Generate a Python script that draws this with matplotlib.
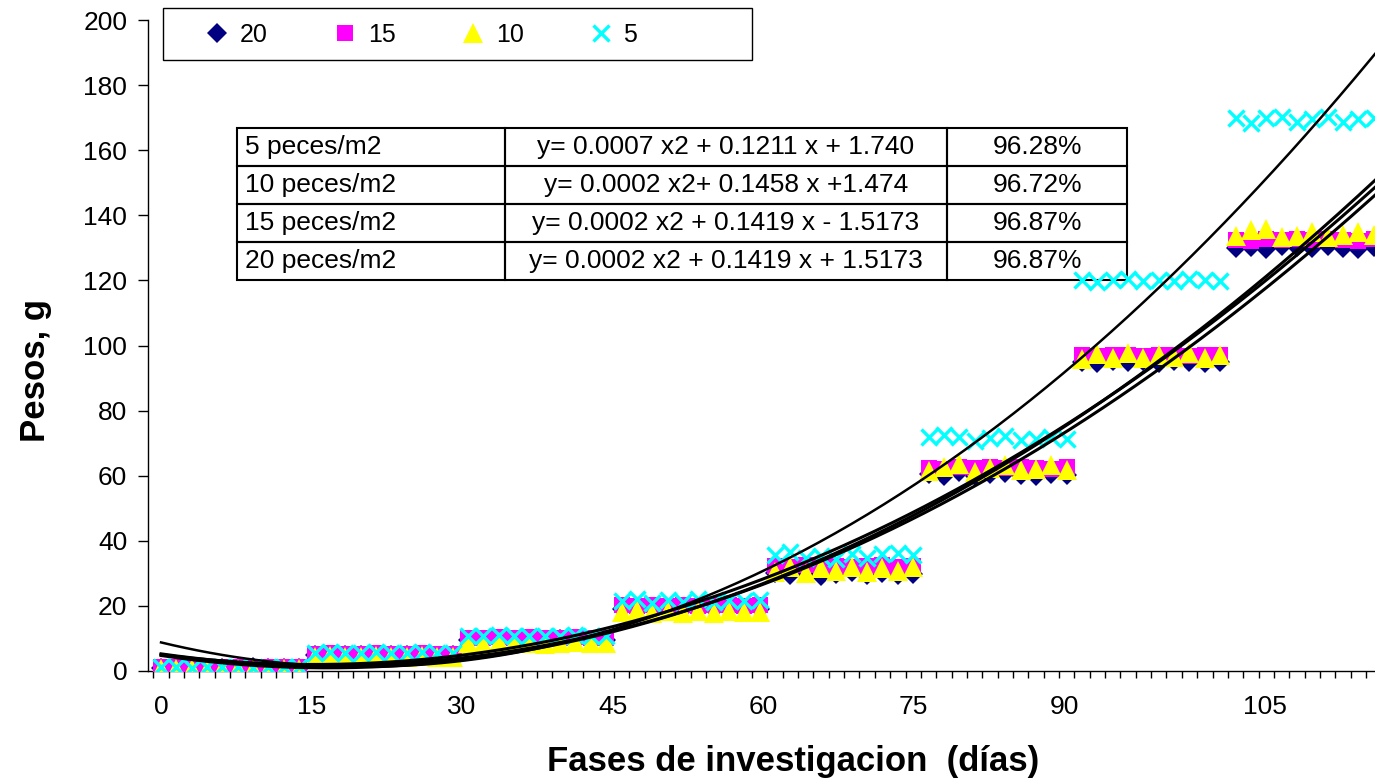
import numpy as np
import matplotlib
matplotlib.use('Agg')
import matplotlib.pyplot as plt
from matplotlib.patches import Rectangle

plt.rcParams['font.family'] = ['Liberation Sans', 'DejaVu Sans']

# one point per sampling step, 8 phases of 10 samples
step_days = 1.53
n_points = 80

peso_20 = [1.0, 1.0, 1.1, 1.0, 0.9, 1.0, 1.1, 1.0, 0.9, 1.0,
           4.8, 4.6, 5.0, 4.8, 4.7, 4.9, 5.0, 4.8, 4.6, 4.9,
           9.5, 9.2, 9.8, 9.4, 9.6, 9.3, 9.7, 9.5, 9.2, 9.6,
           19.0, 18.5, 19.3, 18.8, 19.1, 18.6, 19.2, 18.9, 18.7, 19.0,
           30.0, 29.5, 30.3, 29.2, 29.8, 30.4, 29.6, 30.1, 29.4, 29.9,
           60.5, 60.0, 61.0, 59.8, 60.4, 60.9, 60.2, 59.9, 60.6, 60.1,
           95.0, 94.6, 95.3, 94.8, 95.1, 94.7, 95.2, 94.9, 94.5, 95.0,
           130.0, 130.4, 129.8, 130.6, 130.2, 129.9, 130.5, 130.1, 129.7, 130.3]

peso_15 = [1.2, 1.3, 1.2, 1.1, 1.2, 1.3, 1.2, 1.1, 1.2, 1.2,
           5.3, 5.4, 5.2, 5.3, 5.5, 5.2, 5.3, 5.4, 5.2, 5.3,
           10.2, 10.0, 10.4, 10.1, 10.3, 10.0, 10.2, 10.4, 10.1, 10.2,
           20.2, 20.0, 20.4, 20.1, 20.3, 20.0, 20.2, 20.4, 20.1, 20.2,
           32.3, 32.0, 32.5, 32.2, 32.4, 32.1, 32.3, 32.5, 32.0, 32.2,
           62.5, 62.2, 62.8, 62.4, 62.6, 62.3, 62.7, 62.5, 62.2, 62.6,
           97.0, 96.8, 97.2, 97.0, 96.9, 97.1, 97.0, 96.8, 97.2, 97.0,
           132.5, 132.2, 132.8, 132.4, 132.6, 132.3, 132.7, 132.5, 132.2, 132.6]

peso_10 = [0.5, 0.6, 0.5, 0.4, 0.5, 0.6, 0.5, 0.4, 0.5, 0.5,
           4.4, 4.5, 4.3, 4.4, 4.6, 4.3, 4.4, 4.5, 4.3, 4.4,
           8.6, 8.4, 8.8, 8.5, 8.7, 8.4, 8.6, 8.8, 8.5, 8.6,
           18.0, 18.6, 17.8, 18.3, 17.9, 18.5, 17.7, 18.4, 18.0, 18.2,
           30.5, 31.8, 30.2, 31.5, 30.8, 32.0, 30.4, 31.6, 30.6, 31.9,
           61.5, 62.8, 63.5, 61.2, 62.4, 63.2, 61.8, 62.0, 63.4, 61.6,
           96.0, 97.5, 96.3, 97.8, 96.1, 97.2, 96.5, 97.6, 96.2, 97.0,
           133.5, 135.5, 135.8, 133.2, 133.6, 134.8, 133.4, 134.0, 135.0, 133.8]

peso_5 = [1.1, 1.2, 1.0, 1.1, 1.2, 1.1, 1.0, 1.2, 1.1, 1.1,
          5.6, 5.7, 5.5, 5.6, 5.8, 5.5, 5.6, 5.7, 5.5, 5.6,
          10.8, 10.6, 11.0, 10.7, 10.9, 10.6, 10.8, 11.0, 10.7, 10.8,
          21.5, 22.2, 21.0, 21.8, 21.3, 22.0, 21.2, 21.7, 21.4, 21.9,
          35.5, 36.5, 34.8, 35.2, 34.5, 35.8, 34.6, 35.9, 36.2, 35.6,
          71.8, 72.5, 72.0, 70.8, 71.5, 72.3, 70.9, 71.2, 72.0, 71.4,
          120.0, 119.6, 120.2, 120.4, 119.8, 120.1, 119.7, 120.3, 120.0, 119.9,
          170.0, 168.5, 169.8, 170.2, 168.7, 169.5, 170.3, 168.8, 169.6, 170.0]

series_names = ["20", "15", "10", "5"]
# category labels as they sit on the spreadsheet axis (last one is offset)
tick_pos = [0, 15, 30, 45, 60, 75, 90, 110]
tick_labels = ["0", "15", "30", "45", "60", "75", "90", "105"]

tabla = [["5 peces/m2", "y= 0.0007 x2 + 0.1211 x + 1.740", "96.28%"],
         ["10 peces/m2", "y= 0.0002 x2+ 0.1458 x +1.474", "96.72%"],
         ["15 peces/m2", "y= 0.0002 x2 + 0.1419 x - 1.5173", "96.87%"],
         ["20 peces/m2", "y= 0.0002 x2 + 0.1419 x + 1.5173", "96.87%"]]


def main():
    dias = np.arange(n_points) * step_days

    fig = plt.figure(figsize=(13.75, 7.83), dpi=100)
    ax = fig.add_axes([148 / 1375, 1 - 671 / 783, 1 - 148 / 1375, (671 - 20) / 783])

    styles = [
        (peso_20, dict(marker='D', color='#000080', ms=10, mew=0)),
        (peso_15, dict(marker='s', color='#FF00FF', ms=11, mew=0)),
        (peso_10, dict(marker='^', color='#FFFF00', ms=14, mew=0)),
        (peso_5, dict(marker='x', color='#00FFFF', ms=12, mew=2.4)),
    ]
    handles = []
    for (valores, st), name in zip(styles, series_names):
        h, = ax.plot(dias, valores, linestyle='none', zorder=4, label=name, **st)
        handles.append(h)

    # polynomial trendlines (order 2), as in the spreadsheet
    xs = np.linspace(0, 121, 300)
    for valores, lw in [(peso_20, 2.2), (peso_15, 2.2), (peso_10, 2.2), (peso_5, 1.8)]:
        coef = np.polyfit(dias, valores, 2)
        ax.plot(xs, np.polyval(coef, xs), color='black', lw=lw, zorder=5)

    ax.set_xlim(-1.3, 121.0)
    ax.set_ylim(0, 200)
    ax.set_yticks(np.arange(0, 201, 20))
    ax.set_xticks(tick_pos)
    ax.set_xticklabels(tick_labels)
    ax.set_xticks((np.arange(n_points) + 0.5) * step_days - step_days, minor=True)
    ax.tick_params(axis='x', which='major', length=0, labelsize=19, pad=17)
    ax.tick_params(axis='x', which='minor', length=5, direction='out', width=1)
    ax.tick_params(axis='y', which='major', length=7, direction='out', width=1,
                   labelsize=19, pad=8)
    for side in ['top', 'right']:
        ax.spines[side].set_visible(False)
    for side in ['left', 'bottom']:
        ax.spines[side].set_linewidth(1.0)

    ax.set_xlabel("Fases de investigacion  (días)", fontsize=25, fontweight='bold')
    ax.xaxis.set_label_coords((793 - 148) / 1227, (671 - 762) / 651)
    ax.xaxis.label.set_verticalalignment('center')
    ax.set_ylabel("Pesos, g", fontsize=25, fontweight='bold')
    ax.yaxis.set_label_coords((35 - 148) / 1227, (671 - 370) / 651)
    ax.yaxis.label.set_verticalalignment('center')

    # equations table
    x0 = (237 - 148) / 1227
    y0 = (671 - 280) / 651
    tb = ax.table(cellText=tabla, colWidths=[0.301, 0.497, 0.202],
                  bbox=[x0, y0, 890 / 1227, 152 / 651], zorder=3)
    tb.auto_set_font_size(False)
    tb.set_fontsize(19)
    for (r, c), cell in tb.get_celld().items():
        cell.set_linewidth(1.5)
        cell.set_edgecolor('black')
        cell.set_facecolor('none')
        if c == 0:
            cell._loc = 'left'
            cell.PAD = 0.03
            cell.get_text().set_horizontalalignment('left')
        else:
            cell._loc = 'center'
            cell.get_text().set_horizontalalignment('center')

    # legend box above the plot
    fig.patches.append(Rectangle((163 / 1375, 1 - 60 / 783), 589 / 1375, 52 / 783,
                                 transform=fig.transFigure, fill=False,
                                 edgecolor='black', lw=1.0))
    fig.legend(handles=handles, labels=series_names, loc='center left',
               bbox_to_anchor=(205 / 1375, 1 - 35 / 783), ncol=4,
               frameon=False, fontsize=18, handlelength=1.0, handletextpad=0.4,
               columnspacing=2.6, borderpad=0, borderaxespad=0)

    fig.savefig("out.png", dpi=100)


if __name__ == '__main__':
    main()
